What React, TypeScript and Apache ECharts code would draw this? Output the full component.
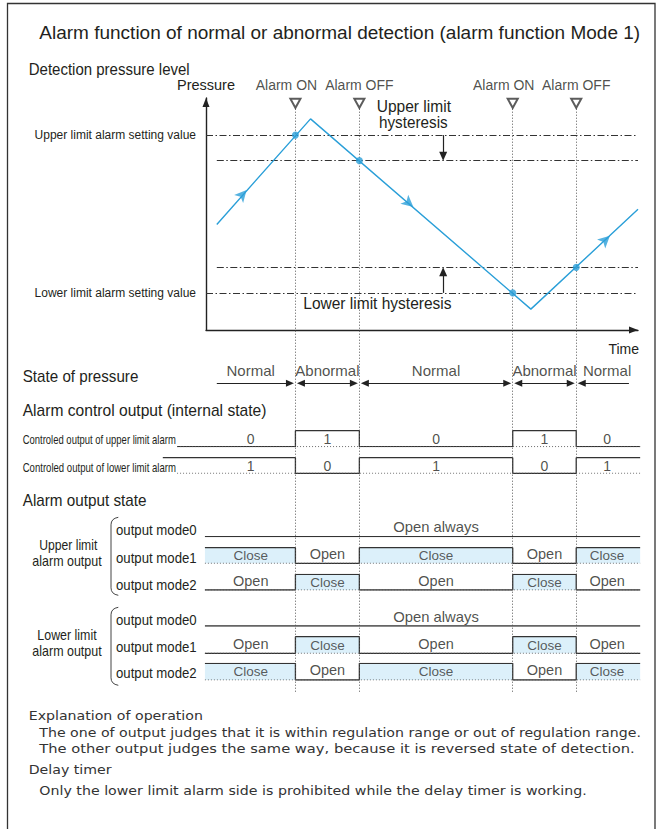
import React, { useEffect, useRef } from 'react';
import * as echarts from 'echarts';

// ---------------- data ----------------
const eventTimes = [20.7, 35.5, 71, 85.7];
const eventLabels = ['Alarm ON', 'Alarm OFF', 'Alarm ON', 'Alarm OFF'];
// upper limit, upper hysteresis, lower hysteresis, lower limit
const levelValues = [84, 73, 27, 16];
const levelNames = ['Upper limit alarm setting value', '', '', 'Lower limit alarm setting value'];
const levelStarts = [0, 2.5, 2.5, 0];
const pressureTime = [2.5, 24.2, 75.2, 100];
const pressureValue = [45.5, 91, 9, 52];
const eventLevels = [84, 73, 16, 27];
const flowArrowTime = [9.4, 48, 93.5];
const flowArrowValue = [60.3, 53, 40.6];
const hysteresisTime = 54.9;
const stateNames = ['Normal', 'Abnormal', 'Normal', 'Abnormal', 'Normal'];
const upperControl = [0, 1, 0, 1, 0];
const lowerControl = [1, 0, 1, 0, 1];
const upperMode0 = [0, 0, 0, 0, 0];
const upperMode1 = [1, 0, 1, 0, 1];
const upperMode2 = [0, 1, 0, 1, 0];
const lowerMode0 = [0, 0, 0, 0, 0];
const lowerMode1 = [0, 1, 0, 1, 0];
const lowerMode2 = [1, 0, 1, 0, 1];
const modeNames = ['output mode0', 'output mode1', 'output mode2'];
const explanationLines = [
  'Explanation of operation',
  'The one of output judges that it is within regulation range or out of regulation range.',
  'The other output judges the same way, because it is reversed state of detection.',
  'Delay timer',
  'Only the lower limit alarm side is prohibited while the delay timer is working.',
];

// ---------------- style / layout ----------------
const W = 662;
const H = 829;
const TEXT = '#231f20';
const LINE = '#333333';
const BLUE = '#2a9fd8';
const FILL = '#dcf0fa';
const SANS = "'Liberation Sans', Arial, Helvetica, sans-serif";
const EXPL = "'DejaVu Sans', Verdana, sans-serif";
const AX_L = 206;
const PX_T = 4.32; // px per time unit
const P_TOP = 98;
const P_H = 232;
const PX_P = P_H / 100;
const T_END = 100.5;

const tpx = (t: number) => AX_L + t * PX_T;
const segBounds = [0, ...eventTimes, 100];
const segMid = (i: number) => (segBounds[i] + segBounds[i + 1]) / 2;

let measureCtx: any = null;
function measure(text: string, font: string) {
  if (!measureCtx) measureCtx = document.createElement('canvas').getContext('2d');
  measureCtx.font = font;
  return measureCtx.measureText(text).width;
}

function textEl(text: string, x: number, y: number, scaleX: number, font: string, align = 'left', color = TEXT) {
  return {
    type: 'text',
    x,
    y,
    scaleX,
    silent: true,
    style: {
      text,
      font,
      fill: color,
      align,
      verticalAlign: 'middle',
      textAlign: align,
      textVerticalAlign: 'middle',
    },
  };
}

function fitText(text: string, x: number, y: number, width: number, size: number, family = SANS, align = 'left', color = TEXT) {
  const font = `${size}px ${family}`;
  const w = measure(text, font) || width;
  return textEl(text, x, y, width / w, font, align, color);
}

function buildOption() {
  const grids: any[] = [];
  const xAxes: any[] = [];
  const yAxes: any[] = [];
  const series: any[] = [];

  function addGrid(tMin: number, tMax: number, top: number, height: number, yMin = 0, yMax = 1, xExtra: any = {}, yExtra: any = {}) {
    const idx = grids.length;
    grids.push({ left: tpx(tMin), width: (tMax - tMin) * PX_T, top, height, containLabel: false, outerBoundsMode: 'none' });
    xAxes.push({ gridIndex: idx, type: 'value', min: tMin, max: tMax, show: false, ...xExtra });
    yAxes.push({ gridIndex: idx, type: 'value', min: yMin, max: yMax, show: false, ...yExtra });
    return idx;
  }

  const axisArrowLine = {
    show: true,
    onZero: false,
    symbol: ['none', 'triangle'],
    symbolSize: [7, 9],
    symbolOffset: [0, -4.5],
    lineStyle: { color: '#222', width: 1.4 },
  };

  // ---- pressure plot ----
  const gP = addGrid(0, 100, P_TOP, P_H, 0, 100,
    {
      show: true, axisLine: axisArrowLine, axisTick: { show: false }, axisLabel: { show: false }, splitLine: { show: false },
      name: 'Time', nameLocation: 'end', nameGap: 1,
      nameTextStyle: { color: TEXT, fontSize: 14, fontFamily: SANS, align: 'right', verticalAlign: 'top', padding: [12, 0, 0, 0] },
    },
    {
      show: true, axisLine: axisArrowLine, axisTick: { show: false }, axisLabel: { show: false }, splitLine: { show: false },
      name: 'Pressure', nameLocation: 'end', nameGap: 6,
      nameTextStyle: { color: TEXT, fontSize: 14.5, fontFamily: SANS, align: 'center', verticalAlign: 'bottom' },
    });

  // ---- event dotted verticals ----
  const gO = addGrid(0, 100, 108, 583.7);
  series.push({
    type: 'line', xAxisIndex: gO, yAxisIndex: gO, silent: true, z: 1,
    data: eventTimes.map((t) => [t, 0]), symbol: 'none', lineStyle: { opacity: 0 },
    markLine: {
      silent: true, symbol: ['none', 'none'], label: { show: false },
      lineStyle: { color: '#555', width: 1, type: [1, 2] },
      data: eventTimes.map((t) => ({ xAxis: t })),
    },
  });

  // ---- header triangles + labels ----
  const gHd = addGrid(0, 100, 77.6, 25.7);
  series.push({
    type: 'scatter', xAxisIndex: gHd, yAxisIndex: gHd, silent: true, z: 5,
    symbol: 'emptyTriangle', symbolRotate: 180, symbolSize: [10, 9],
    itemStyle: { color: '#333', borderWidth: 1 },
    label: {
      show: true, position: 'top', distance: 6, color: TEXT, fontSize: 14, fontFamily: SANS,
      formatter: (p: any) => eventLabels[p.dataIndex],
    },
    data: eventTimes.map((t, i) => ({ value: [t, 0], label: { offset: [i % 2 === 0 ? -9 : 0, 0] } })),
  });

  // pressure line with level lines
  series.push({
    type: 'line', xAxisIndex: gP, yAxisIndex: gP, silent: true, z: 5,
    data: pressureTime.map((t, i) => [t, pressureValue[i]]),
    symbol: 'none', lineStyle: { color: BLUE, width: 1.4 },
    markLine: {
      silent: true, symbol: ['none', 'none'],
      lineStyle: { color: '#333', width: 1, type: [7, 2.5, 1.5, 2.5] },
      label: { show: false },
      data: levelValues.map((v, i) => [
        {
          coord: [levelStarts[i], v], name: levelNames[i],
          label: { show: !!levelNames[i], position: 'start', distance: 10, formatter: '{b}', color: TEXT, fontSize: 12, fontFamily: SANS },
        },
        { coord: [100, v] },
      ]),
    },
  });
  // switching points + hysteresis arrows
  series.push({
    type: 'scatter', xAxisIndex: gP, yAxisIndex: gP, silent: true, z: 6,
    data: eventTimes.map((t, i) => [t, eventLevels[i]]),
    symbolSize: 7, itemStyle: { color: BLUE },
    markLine: {
      silent: true, symbol: ['none', 'triangle'], symbolSize: [8, 9],
      lineStyle: { color: '#222', width: 1.2, type: 'solid' },
      label: { show: false },
      data: [
        [{ coord: [hysteresisTime, levelValues[0]] }, { coord: [hysteresisTime, levelValues[1] + 4.5 / PX_P] }],
        [{ coord: [hysteresisTime, levelValues[3]] }, { coord: [hysteresisTime, levelValues[2] - 4.5 / PX_P] }],
      ],
    },
  });
  // direction arrows on the pressure line
  const arrowRotate = (t: number) => {
    let k = 0;
    while (k < pressureTime.length - 2 && t > pressureTime[k + 1]) k++;
    const dt = (pressureTime[k + 1] - pressureTime[k]) * PX_T;
    const dp = (pressureValue[k + 1] - pressureValue[k]) * PX_P;
    return (Math.atan2(dp, dt) * 180) / Math.PI - 90;
  };
  series.push({
    type: 'scatter', xAxisIndex: gP, yAxisIndex: gP, silent: true, z: 7,
    symbol: 'arrow', symbolSize: [9, 12], itemStyle: { color: BLUE },
    data: flowArrowTime.map((t, i) => ({ value: [t, flowArrowValue[i]], symbolRotate: arrowRotate(t) })),
  });

  // ---- state of pressure ----
  const gS = addGrid(0, 100, 358, 25.3);
  const sb = [2.5, ...eventTimes, 97.9];
  const off = (1.5 + 4) / PX_T;
  series.push({
    type: 'line', xAxisIndex: gS, yAxisIndex: gS, silent: true, z: 4,
    data: [[2.5, 0], [97.9, 0]], symbol: 'none', lineStyle: { opacity: 0 },
    markLine: {
      silent: true, label: { show: false }, symbolSize: [7, 8],
      lineStyle: { color: '#222', width: 1.2, type: 'solid' },
      data: stateNames.map((_, i) => [
        { coord: [i === 0 ? sb[i] : sb[i] + off, 0], symbol: i === 0 ? 'none' : 'triangle' },
        { coord: [i === stateNames.length - 1 ? sb[i + 1] : sb[i + 1] - off, 0], symbol: i === stateNames.length - 1 ? 'none' : 'triangle' },
      ]),
    },
  });
  series.push({
    type: 'scatter', xAxisIndex: gS, yAxisIndex: gS, silent: true, z: 6,
    symbolSize: 1, itemStyle: { color: 'rgba(0,0,0,0)' },
    label: { show: true, position: 'inside', formatter: '{b}', color: TEXT, fontSize: 15, fontFamily: SANS },
    data: stateNames.map((n, i) => ({ name: n, value: [segMid(i), 0.5] })),
  });

  // ---- timing rows ----
  function stepData(values: number[], tStart: number) {
    const xs = [tStart, ...eventTimes];
    const pts = values.map((v, i) => [xs[i], v]);
    pts.push([T_END, values[values.length - 1]]);
    return pts;
  }
  function addRow(values: number[], tStart: number, baseStart: number, top: number, height: number, kind: string) {
    const g = addGrid(Math.min(tStart, baseStart), T_END, top, height);
    series.push({
      type: 'line', xAxisIndex: g, yAxisIndex: g, silent: true, z: 3, step: 'end',
      data: stepData(values, tStart), symbol: 'none',
      lineStyle: { color: LINE, width: 1.3 },
      areaStyle: kind === 'mode' ? { color: FILL, opacity: 1 } : undefined,
    });
    if (kind !== 'always') {
      series.push({
        type: 'line', xAxisIndex: g, yAxisIndex: g, silent: true, z: 4,
        data: [[baseStart, 0], [T_END, 0]], symbol: 'none',
        lineStyle: { color: '#555', width: 1, type: [1, 2] },
      });
    }
    let labels: any[] = [];
    if (kind === 'ctrl') {
      labels = values.map((v, i) => ({ name: String(v), value: [segMid(i), 0.5] }));
    } else if (kind === 'mode') {
      labels = values.map((v, i) => ({
        name: v === 1 ? 'Close' : 'Open',
        value: [segMid(i), 0.5],
        label: v === 1 ? { fontSize: 13.5, color: '#333' } : { fontSize: 14.5, offset: [0, -1.5] },
      }));
    } else {
      labels = [{ name: 'Open always', value: [segMid(2), 0.5] }];
    }
    series.push({
      type: 'scatter', xAxisIndex: g, yAxisIndex: g, silent: true, z: 6,
      symbolSize: 1, itemStyle: { color: 'rgba(0,0,0,0)' },
      label: { show: true, position: 'inside', formatter: '{b}', color: TEXT, fontSize: kind === 'always' ? 14.8 : 14, fontFamily: SANS },
      data: labels,
    });
  }
  addRow(upperControl, -6.7, -6.7, 430.7, 16, 'ctrl');
  addRow(lowerControl, -10, -6.7, 457.7, 15.6, 'ctrl');
  addRow(upperMode0, -0.25, -0.25, 516.7, 20, 'always');
  addRow(upperMode1, -0.25, -0.25, 547.7, 15.6, 'mode');
  addRow(upperMode2, -0.25, -0.25, 574.3, 15.7, 'mode');
  addRow(lowerMode0, -0.25, -0.25, 607.4, 18.6, 'always');
  addRow(lowerMode1, -0.25, -0.25, 636.7, 16.6, 'mode');
  addRow(lowerMode2, -0.25, -0.25, 663.3, 16.7, 'mode');

  // ---- static texts / decorations ----
  const el: any[] = [];
  el.push({ type: 'rect', silent: true, shape: { x: 7.5, y: 3.5, width: 647.5, height: 840 }, style: { fill: 'none', stroke: '#333', lineWidth: 1.3 } });
  el.push(fitText('Alarm function of normal or abnormal detection (alarm function Mode 1)', 39.3, 32.2, 601, 18.5));
  el.push(fitText('Detection pressure level', 28.7, 69.5, 161, 16.5));
  el.push(fitText('Upper limit', 376.7, 106, 74.3, 16));
  el.push(fitText('hysteresis', 379, 122, 68.7, 16));
  el.push(fitText('Lower limit hysteresis', 303.3, 303.8, 148.4, 16));
  el.push(fitText('State of pressure', 22.7, 376, 115.7, 16));
  el.push(fitText('Alarm control output (internal state)', 22.7, 410, 244, 16));
  el.push(fitText('Controled output of upper limit alarm', 22.7, 439.3, 153.3, 13));
  el.push(fitText('Controled output of lower limit alarm', 22.7, 467, 153.3, 13));
  el.push(fitText('Alarm output state', 22.7, 500.7, 124, 16));
  el.push(fitText('Upper limit', 68.3, 545, 58, 14, SANS, 'center'));
  el.push(fitText('alarm output', 67, 561, 69.3, 14, SANS, 'center'));
  el.push(fitText('Lower limit', 67, 635, 59.4, 14, SANS, 'center'));
  el.push(fitText('alarm output', 67, 651.7, 69.3, 14, SANS, 'center'));
  const modeY = [[530, 557.3, 585], [619.3, 646.7, 672.7]];
  modeY.forEach((ys) => ys.forEach((y, i) => el.push(fitText(modeNames[i], 116, y, 80.7, 14.5))));
  // braces
  [517.3, 607.3].forEach((y0) => {
    el.push({ type: 'bezierCurve', silent: true, shape: { x1: 118.3, y1: y0, cpx1: 111, cpy1: y0 + 1.2, x2: 111, y2: y0 + 7.5 }, style: { stroke: '#444', fill: 'none', lineWidth: 1 } });
    el.push({ type: 'line', silent: true, shape: { x1: 111, y1: y0 + 7.5, x2: 111, y2: y0 + 70.5 }, style: { stroke: '#444', lineWidth: 1 } });
    el.push({ type: 'bezierCurve', silent: true, shape: { x1: 111, y1: y0 + 70.5, cpx1: 111, cpy1: y0 + 76.8, x2: 118.3, y2: y0 + 78 }, style: { stroke: '#444', fill: 'none', lineWidth: 1 } });
  });
  // explanation block
  const explSize = 13;
  const explFont = `${explSize}px ${EXPL}`;
  const explX = [28.7, 39.3, 39.3, 28.7, 39.3];
  const explY = [715, 732.5, 748, 769, 790];
  const explW = [0, 602.4, 595.7, 0, 547.4];
  const baseScale = 602.4 / (measure(explanationLines[1], explFont) || 602.4);
  explanationLines.forEach((t, i) => {
    const s = explW[i] ? explW[i] / (measure(t, explFont) || explW[i]) : baseScale;
    el.push(textEl(t, explX[i], explY[i], s, explFont, 'left', '#333'));
  });

  return {
    animation: false,
    grid: grids,
    xAxis: xAxes,
    yAxis: yAxes,
    series,
    graphic: { elements: el },
  };
}

export default function App() {
  const ref = useRef<HTMLDivElement>(null);
  useEffect(() => {
    if (!ref.current) return;
    const chart = echarts.init(ref.current, undefined, { renderer: 'svg' });
    chart.setOption(buildOption() as any);
    return () => chart.dispose();
  }, []);
  return <div ref={ref} style={{ position: 'fixed', left: 0, top: 0, width: W, height: H, background: '#fff' }} />;
}
